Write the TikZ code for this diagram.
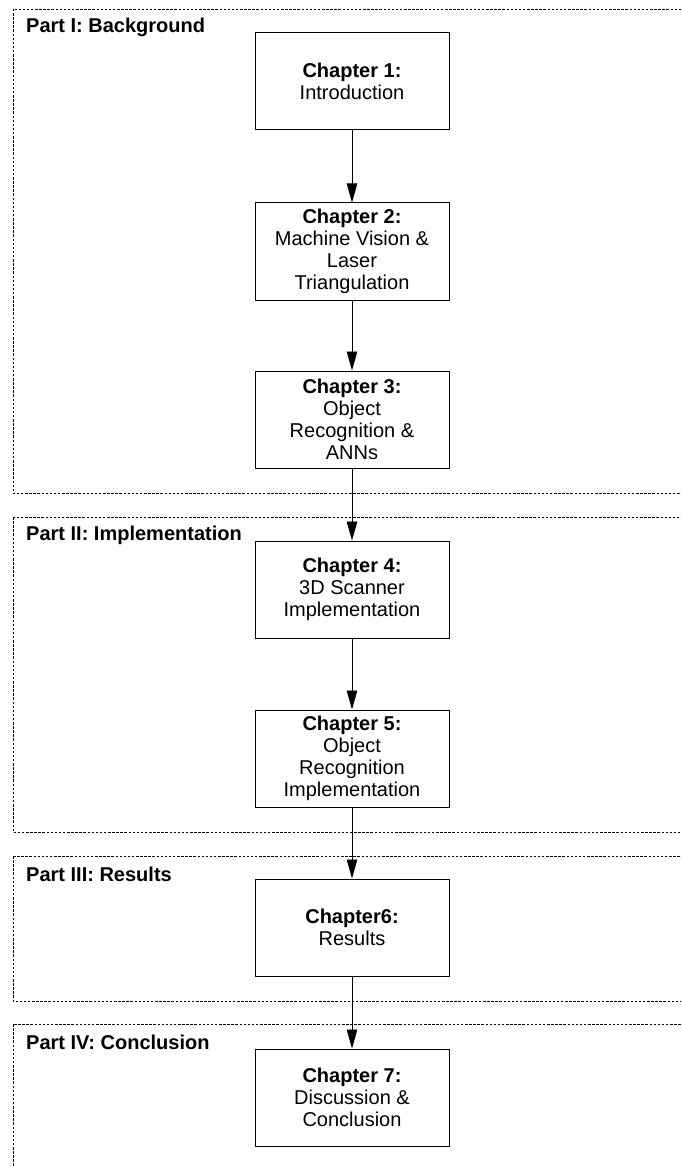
\documentclass[tikz,border=0pt]{standalone}
\usepackage{fontspec}
\setmainfont{Liberation Sans}
\usetikzlibrary{arrows.meta}
\begin{document}
\begin{tikzpicture}[x=1pt,y=-1pt,
  chapter/.style={draw=black, line width=1pt, minimum width=194pt, minimum height=97pt,
    align=center, inner sep=0pt, font=\fontsize{20}{22}\selectfont},
  partframe/.style={draw=black, line width=0.9pt, dash pattern=on 2.5pt off 1.6pt},
  partlabel/.style={anchor=west, inner sep=0pt, font=\fontsize{20}{22}\selectfont\bfseries},
  flow/.style={draw=black, line width=0.9pt, -{Triangle[length=19pt,width=10.5pt]}}]
  \useasboundingbox (0,0) rectangle (681,1166);
  \clip (0,0) rectangle (681,1166);

  % dashed part frames (open to the right edge)
  \draw[partframe] (13,9) rectangle (720,493);
  \draw[partframe] (13,517) rectangle (720,832);
  \draw[partframe] (13,856) rectangle (720,1001);
  \draw[partframe] (13,1024) rectangle (720,1190);

  % part titles
  \node[partlabel] (p1) at (26,27) {Part I: Background};
  \node[partlabel] (p2) at (26,535) {Part II: Implementation};
  \node[partlabel] (p3) at (26,874) {Part III: Results};
  \node[partlabel] (p4) at (26,1042) {Part IV: Conclusion};

  % chapters
  \node[chapter] (c1) at (352,81.5)  {\textbf{Chapter 1:}\\Introduction};
  \node[chapter] (c2) at (352,251.5) {\textbf{Chapter 2:}\\Machine Vision \&\\Laser\\Triangulation};
  \node[chapter] (c3) at (352,419.5) {\textbf{Chapter 3:}\\Object\\Recognition \&\\ANNs};
  \node[chapter] (c4) at (352,589.5) {\textbf{Chapter 4:}\\3D Scanner\\Implementation};
  \node[chapter] (c5) at (352,758.5) {\textbf{Chapter 5:}\\Object\\Recognition\\Implementation};
  \node[chapter] (c6) at (352,927.5) {\textbf{Chapter6:}\\Results};
  \node[chapter] (c7) at (352,1097.5) {\textbf{Chapter 7:}\\Discussion \&\\Conclusion};

  % reading order
  \draw[flow] (c1) -- (c2);
  \draw[flow] (c2) -- (c3);
  \draw[flow] (c3) -- (c4);
  \draw[flow] (c4) -- (c5);
  \draw[flow] (c5) -- (c6);
  \draw[flow] (c6) -- (c7);
\end{tikzpicture}
\end{document}
